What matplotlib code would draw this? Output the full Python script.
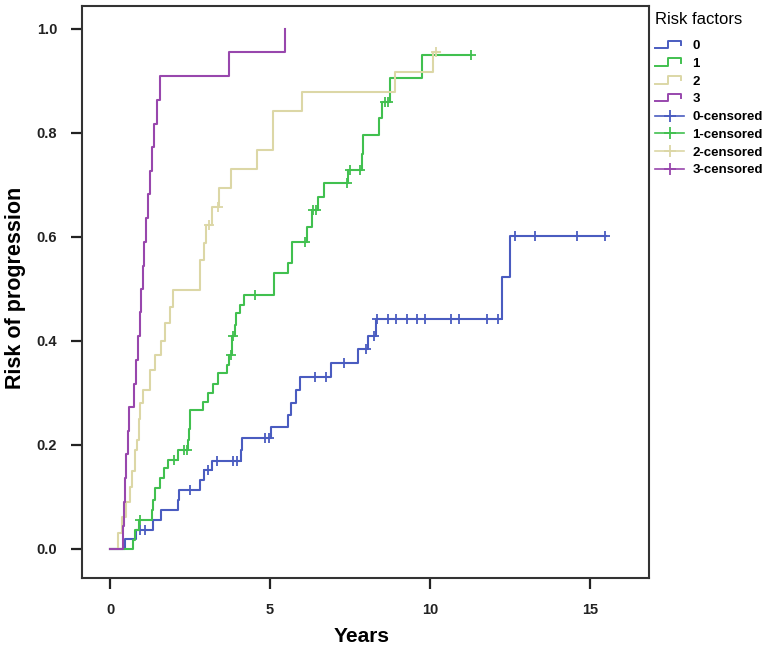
import numpy as np
import matplotlib
matplotlib.use("Agg")
import matplotlib.pyplot as plt
from matplotlib.lines import Line2D
from matplotlib.legend_handler import HandlerBase

plt.rcParams['font.family'] = ['Liberation Sans', 'DejaVu Sans']

# Cumulative risk of progression by number of risk factors
labels = ["0", "1", "2", "3"]
colors = ["#4a5cc0", "#41c04f", "#dcd7a6", "#9847ad"]

t0 = [0.47, 0.81, 1.35, 1.6, 2.13, 2.15, 2.8, 2.95, 3.2, 4.1, 4.12, 5.02, 5.55, 5.65,
      5.8, 5.95, 6.9, 7.76, 8.05, 8.3, 12.24, 12.5]
r0 = [0.019, 0.037, 0.056, 0.075, 0.094, 0.113, 0.132, 0.151, 0.17, 0.19, 0.213, 0.235,
      0.258, 0.28, 0.306, 0.331, 0.357, 0.385, 0.41, 0.442, 0.522, 0.602]
c0 = [0.95, 1.1, 2.5, 3.05, 3.35, 3.85, 3.98, 4.85, 4.97, 6.4, 6.75, 7.3, 8.0, 8.25,
      8.33, 8.67, 8.93, 9.29, 9.6, 9.84, 10.65, 10.9, 11.79, 12.13, 12.66, 13.28, 14.6, 15.47]
end0 = 15.5

t1 = [0.73, 0.78, 0.9, 1.3, 1.33, 1.4, 1.56, 1.69, 1.82, 2.13, 2.44, 2.47, 2.5, 2.92,
      3.07, 3.22, 3.38, 3.65, 3.72, 3.8, 3.82, 3.9, 3.94, 4.05, 4.2, 5.13, 5.55, 5.68,
      6.15, 6.3, 6.5, 6.7, 7.45, 7.87, 7.9, 8.4, 8.5, 8.75, 9.74]
r1 = [0.018, 0.037, 0.055, 0.074, 0.094, 0.117, 0.136, 0.155, 0.171, 0.19, 0.21, 0.23,
      0.267, 0.283, 0.30, 0.318, 0.338, 0.354, 0.373, 0.39, 0.41, 0.43, 0.454, 0.47,
      0.488, 0.53, 0.55, 0.591, 0.62, 0.652, 0.677, 0.703, 0.729, 0.76, 0.796, 0.828,
      0.86, 0.905, 0.95]
c1 = [0.95, 2.0, 2.3, 2.4, 3.77, 3.85, 4.53, 6.1, 6.35, 6.45, 7.4, 7.5, 7.8, 8.6, 8.7, 11.27]
end1 = 11.27

t2 = [0.26, 0.36, 0.5, 0.63, 0.7, 0.78, 0.83, 0.9, 0.94, 1.04, 1.25, 1.4, 1.6, 1.72,
      1.88, 1.96, 2.81, 2.94, 3.0, 3.2, 3.4, 3.77, 4.6, 5.1, 6.0, 8.9, 10.1]
r2 = [0.031, 0.062, 0.09, 0.12, 0.15, 0.19, 0.21, 0.25, 0.28, 0.305, 0.344, 0.373, 0.40,
      0.434, 0.466, 0.498, 0.556, 0.588, 0.623, 0.658, 0.694, 0.73, 0.767, 0.843, 0.879,
      0.918, 0.956]
c2 = [3.1, 3.38, 10.2]
end2 = 10.3

t3 = [0.41, 0.43, 0.46, 0.5, 0.55, 0.6, 0.76, 0.82, 0.88, 0.93, 0.98, 1.02, 1.07, 1.12,
      1.18, 1.24, 1.3, 1.38, 1.47, 1.56, 3.72, 5.47]
r3 = [0.045, 0.091, 0.136, 0.182, 0.227, 0.273, 0.318, 0.364, 0.409, 0.455, 0.5, 0.545,
      0.591, 0.636, 0.682, 0.727, 0.773, 0.818, 0.864, 0.909, 0.955, 1.0]
c3 = []
end3 = 5.47

groups = [(t0, r0, c0, end0), (t1, r1, c1, end1), (t2, r2, c2, end2), (t3, r3, c3, end3)]

fig = plt.figure(figsize=(7.68, 6.51), dpi=100)
ax = fig.add_axes([82 / 768, 1 - 578 / 651, 567 / 768, 572 / 651])

for (t, r, c, end), col in zip(groups, colors):
    tt = np.concatenate([[0.0], t, [end]])
    rr = np.concatenate([[0.0], r, [r[-1]]])
    ax.step(tt, rr, where='post', color=col, lw=1.5)
    if c:
        idx = np.searchsorted(tt, c, side='right') - 1
        ax.plot(c, rr[idx], ls='none', marker='+', ms=6.5, mew=1.3, color=col)

ax.set_xlim(-0.875, 16.84)
ax.set_ylim(-0.0558, 1.044)
ax.set_xticks([0, 5, 10, 15])
ax.set_yticks([0.0, 0.2, 0.4, 0.6, 0.8, 1.0])
ax.set_yticklabels(["0.0", "0.2", "0.4", "0.6", "0.8", "1.0"])
ax.tick_params(direction='out', length=8, width=1.6, colors='#222222',
               labelsize=10.5, pad=10)
for lab in ax.get_xticklabels() + ax.get_yticklabels():
    lab.set_fontweight('bold')
for sp in ax.spines.values():
    sp.set_linewidth(1.5)
    sp.set_color('#333333')

# axis titles placed by hand so they sit where the original has them
fig.text(362 / 768, 1 - 636 / 651, "Years", fontsize=15, fontweight='bold',
         ha='center', va='center')
fig.text(16 / 768, 1 - 288 / 651, "Risk of progression", fontsize=15.5, fontweight='bold',
         rotation=90, ha='center', va='center')


class StepHandler(HandlerBase):
    def create_artists(self, legend, orig_handle, xdescent, ydescent, width, height,
                       fontsize, trans):
        lo, hi = -ydescent + 0.1 * height, -ydescent + 0.9 * height
        x = np.array([0, 0.45, 0.45, 0.9, 0.9]) * width - xdescent
        y = np.array([lo, lo, hi, hi, lo + 0.35 * height])
        ln = Line2D(x, y, color=orig_handle.get_color(), lw=1.4, transform=trans)
        return [ln]


line_handles = [Line2D([], [], color=c) for c in colors]
cens_handles = [Line2D([], [], color=c, marker='+', ms=9, mew=1.3, lw=1.2) for c in colors]
handles = line_handles + cens_handles
names = labels + [l + "-censored" for l in labels]

leg = fig.legend(handles, names, loc='upper left', bbox_to_anchor=(650 / 768, 1 - 7 / 651),
                 frameon=False, title="Risk factors", title_fontsize=12,
                 prop={'size': 9.5, 'weight': 'bold'}, handlelength=2.2,
                 handletextpad=0.6, labelspacing=0.42, borderaxespad=0,
                 handler_map={h: StepHandler() for h in line_handles})
leg._legend_box.align = "left"
leg._legend_box.sep = 9

fig.savefig("out.png", dpi=100)
